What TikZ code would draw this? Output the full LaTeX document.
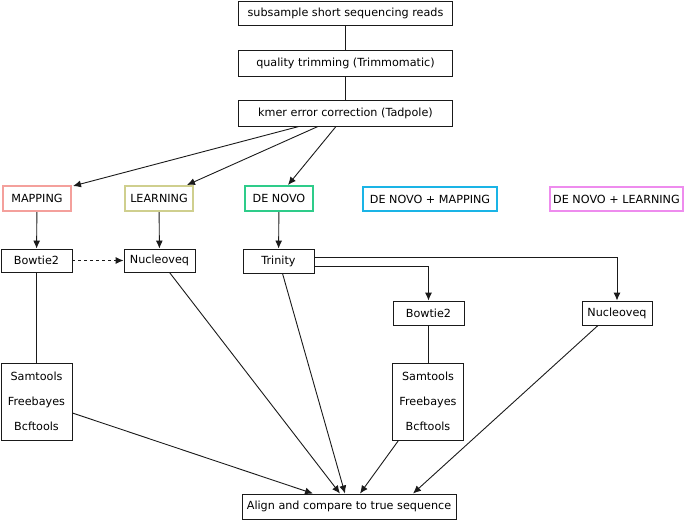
\documentclass[tikz,border=0pt]{standalone}
\usepackage{fontspec}
\setmainfont{DejaVu Sans}
\usetikzlibrary{arrows.meta,calc}
\definecolor{cmap}{HTML}{F4A09C}
\definecolor{clearn}{HTML}{CFCF8E}
\definecolor{cdenovo}{HTML}{2ECC8A}
\definecolor{cdnm}{HTML}{1AB4E6}
\definecolor{cdnl}{HTML}{EE8CEE}
\definecolor{edge}{HTML}{1A1A1A}
\tikzset{
  box/.style={draw=edge, line width=0.9pt, rectangle, inner sep=0pt, align=center, font=\fontsize{11.2}{25}\selectfont},
  cbox/.style={box, line width=2pt, draw=#1},
  conn/.style={draw=edge, line width=0.9pt},
  arr/.style={conn, -{Latex[length=8pt,width=7pt]}},
}
\begin{document}
\begin{tikzpicture}[x=1pt,y=-1pt]
\useasboundingbox (0,0) rectangle (685,520);
% pipeline top
\node[box, minimum width=214pt, minimum height=24pt] (sub) at (345.5,13) {subsample short sequencing reads};
\node[box, minimum width=214pt, minimum height=26pt] (trim) at (345.5,63.5) {quality trimming (Trimmomatic)};
\node[box, minimum width=214pt, minimum height=26pt] (kmer) at (345.5,113) {kmer error correction (Tadpole)};
% categories
\node[cbox=cmap, minimum width=68pt, minimum height=25pt] (map) at (37,198.5) {MAPPING};
\node[cbox=clearn, minimum width=68pt, minimum height=25pt] (learn) at (159,198.5) {LEARNING};
\node[cbox=cdenovo, minimum width=68pt, minimum height=25pt] (dn) at (279,198.5) {DE NOVO};
\node[cbox=cdnm, minimum width=134pt, minimum height=24pt] (dnm) at (430,199) {DE NOVO + MAPPING};
\node[cbox=cdnl, minimum width=133pt, minimum height=24pt] (dnl) at (616.5,199) {DE NOVO + LEARNING};
% tools
\node[box, minimum width=71pt, minimum height=23pt] (bowL) at (36.5,260.5) {Bowtie2};
\node[box, minimum width=71pt, minimum height=23pt] (nucL) at (159.5,260.5) {Nucleoveq};
\node[box, minimum width=71pt, minimum height=24pt] (trin) at (278.5,261) {Trinity};
\node[box, minimum width=71pt, minimum height=24pt] (bowR) at (428.5,313) {Bowtie2};
\node[box, minimum width=70pt, minimum height=24pt] (nucR) at (617,313) {Nucleoveq};
\node[box, minimum width=71pt, minimum height=77pt] (samL) at (36.5,401.5) {Samtools\\Freebayes\\Bcftools};
\node[box, minimum width=71pt, minimum height=77pt] (samR) at (428,401.5) {Samtools\\Freebayes\\Bcftools};
\node[box, minimum width=214pt, minimum height=25pt] (align) at (349,506.5) {Align and compare to true sequence};
% connectors
\draw[conn] (sub) -- (trim);
\draw[conn] (trim) -- (kmer);
\draw[arr] ($(kmer.south)+(-46.5,0)$) -- ($(map.north east)+(1,1)$);
\draw[arr] ($(kmer.south)+(-27.5,0)$) -- ($(learn.north)+(28,0)$);
\draw[arr] ($(kmer.south)+(-9.5,0)$) -- ($(dn.north)+(9,0)$);
\draw[arr] (map) -- (bowL);
\draw[arr] (learn) -- (nucL);
\draw[arr] (dn) -- (trin);
\draw[arr, dashed] (bowL) -- (nucL);
\draw[arr] ($(trin.east)+(0,-4)$) -| (nucR.north);
\draw[arr] ($(trin.east)+(0,5)$) -| (bowR.north);
\draw[conn] (bowL) -- (samL);
\draw[conn] (bowR.south) -- (bowR.south |- samR.north);
\draw[arr] ($(samL.east)+(0,11.5)$) -- ($(align.north)+(-36,0)$);
\draw[arr] ($(nucL.south)+(10,0)$) -- ($(align.north)+(-9,0)$);
\draw[arr] ($(trin.south)+(4,0)$) -- ($(align.north)+(-4,0)$);
\draw[arr] ($(samR.south)+(-29.5,0)$) -- ($(align.north)+(11,0)$);
\draw[arr] ($(nucR.south)+(-19,0)$) -- ($(align.north)+(64,0)$);
\end{tikzpicture}
\end{document}
